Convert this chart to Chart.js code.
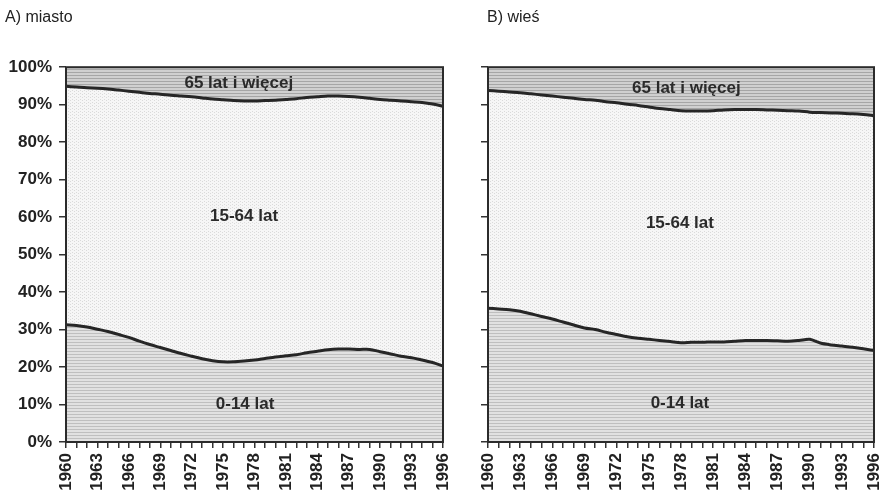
<!DOCTYPE html>
<html>
<head>
<meta charset="utf-8">
<script src="https://cdn.jsdelivr.net/npm/chart.js@4.4.1/dist/chart.umd.min.js"></script>
<style>
  body { margin: 0; background: #fff; }
  #wrap { position: relative; width: 880px; height: 498px; }
  canvas { position: absolute; top: 0; }
</style>
</head>
<body>
<div id="wrap">
  <canvas id="miasto" width="460" height="498" style="left:0"></canvas>
  <canvas id="wies" width="420" height="498" style="left:460px"></canvas>
</div>
<script>
var lata = ['1960','1961','1962','1963','1964','1965','1966','1967','1968','1969',
            '1970','1971','1972','1973','1974','1975','1976','1977','1978','1979',
            '1980','1981','1982','1983','1984','1985','1986','1987','1988','1989',
            '1990','1991','1992','1993','1994','1995','1996'];

// udział grupy 0-14 lat (%)
var miasto0_14 = [31.3, 31.1, 30.7, 30.1, 29.5, 28.7, 27.9, 26.9, 26.0, 25.2,
                  24.4, 23.6, 22.9, 22.2, 21.7, 21.4, 21.4, 21.6, 21.9, 22.3,
                  22.7, 23.0, 23.3, 23.8, 24.2, 24.6, 24.8, 24.8, 24.7, 24.7,
                  24.1, 23.5, 22.9, 22.5, 21.9, 21.2, 20.3];
// udział ludności poniżej 65 lat, narastająco (%)
var miasto0_64 = [94.9, 94.7, 94.5, 94.4, 94.2, 93.9, 93.6, 93.3, 93.0, 92.8,
                  92.5, 92.3, 92.1, 91.8, 91.5, 91.3, 91.1, 91.0, 91.0, 91.1,
                  91.2, 91.4, 91.6, 91.9, 92.1, 92.3, 92.3, 92.2, 92.0, 91.7,
                  91.4, 91.2, 91.0, 90.8, 90.6, 90.2, 89.6];

var wies0_14 = [35.7, 35.5, 35.3, 34.9, 34.2, 33.5, 32.8, 32.0, 31.2, 30.4,
                30.0, 29.3, 28.7, 28.1, 27.7, 27.4, 27.1, 26.8, 26.5, 26.6,
                26.6, 26.7, 26.7, 26.9, 27.1, 27.1, 27.1, 27.0, 26.9, 27.1,
                27.4, 26.4, 25.9, 25.6, 25.3, 24.9, 24.4];
var wies0_64 = [93.8, 93.6, 93.4, 93.2, 92.9, 92.6, 92.3, 92.0, 91.7, 91.4,
                91.2, 90.8, 90.5, 90.1, 89.8, 89.4, 89.0, 88.7, 88.4, 88.3,
                88.3, 88.4, 88.6, 88.7, 88.7, 88.7, 88.6, 88.5, 88.4, 88.3,
                88.0, 87.9, 87.8, 87.7, 87.6, 87.4, 87.1];

var grupy = ['65 lat i więcej', '15-64 lat', '0-14 lat'];
// gdzie stoją napisy grup: [indeks roku, wartość %]
var napisyMiasto = [[16.5, 95.7], [17, 60.3], [17.1, 10.1]];
var napisyWies = [[18.5, 94.4], [17.9, 58.4], [17.9, 10.2]];

var FONT = "'Liberation Sans', Arial, sans-serif";

function wzor(base, line, kind) {
    var c = document.createElement('canvas');
    c.width = 4; c.height = 3;
    var g = c.getContext('2d');
    g.fillStyle = base;
    g.fillRect(0, 0, 4, 3);
    g.fillStyle = line;
    if (kind === 'h') g.fillRect(0, 0, 4, 1);
    else { g.fillRect(0, 0, 1, 1); g.fillRect(2, 1, 1, 1); }
    return g.createPattern(c, 'repeat');
}

var tloSrodek = wzor('#f6f6f6', '#dadada', 'd');
var tloDol = wzor('#e1e1e1', '#bfbfbf', 'h');
var tloGora = wzor('#d0d0d0', '#a6a6a6', 'h');

var ramka = {
    id: 'ramka',
    beforeDraw: function (chart) {
        var a = chart.chartArea, ctx = chart.ctx;
        ctx.save();
        ctx.fillStyle = tloSrodek;
        ctx.fillRect(a.left, a.top, a.right - a.left, a.bottom - a.top);
        ctx.restore();
    },
    afterDatasetsDraw: function (chart, args, opts) {
        var a = chart.chartArea, ctx = chart.ctx;
        var x = chart.scales.x, y = chart.scales.y;
        ctx.save();
        ctx.strokeStyle = '#2b2b2b';
        ctx.lineWidth = 2;
        ctx.strokeRect(a.left, a.top, a.right - a.left, a.bottom - a.top);
        ctx.fillStyle = '#2a2a2a';
        ctx.font = 'bold 17px ' + FONT;
        ctx.textAlign = 'center';
        ctx.textBaseline = 'middle';
        opts.napisy.forEach(function (n, i) {
            ctx.fillText(grupy[i], x.getPixelForValue(n[0]), y.getPixelForValue(n[1]));
        });
        ctx.restore();
    }
};

function wykres(id, tytul, do14, do64, napisy, etykietyY, padLeft, padRight, szerY) {
    return new Chart(document.getElementById(id), {
        type: 'line',
        data: {
            labels: lata,
            datasets: [{
                data: do14,
                borderColor: '#262626',
                borderWidth: 3,
                backgroundColor: tloDol,
                fill: 'origin',
                pointRadius: 0,
                tension: 0.3
            }, {
                data: do64,
                borderColor: '#262626',
                borderWidth: 3,
                backgroundColor: tloGora,
                fill: 'end',
                pointRadius: 0,
                tension: 0.3
            }]
        },
        plugins: [ramka],
        options: {
            responsive: false,
            animation: false,
            devicePixelRatio: 1,
            layout: { padding: { left: padLeft, right: padRight, top: 0, bottom: 0 } },
            plugins: {
                legend: { display: false },
                tooltip: { enabled: false },
                title: {
                    display: true,
                    text: tytul,
                    align: 'start',
                    color: '#222',
                    font: { family: FONT, size: 16, weight: 'normal' },
                    padding: { top: 8, bottom: 40 }
                },
                ramka: { napisy: napisy }
            },
            scales: {
                x: {
                    offset: false,
                    grid: { drawOnChartArea: false, color: '#333', tickLength: 6, lineWidth: 1.5 },
                    border: { display: false },
                    afterFit: function (s) { s.height = 56; s.paddingLeft = 0; s.paddingRight = 0; },
                    ticks: {
                        autoSkip: false,
                        maxRotation: 90,
                        minRotation: 90,
                        padding: 5,
                        color: '#222',
                        font: { family: FONT, size: 17, weight: 'bold' },
                        callback: function (v, i) { return i % 3 === 0 ? this.getLabelForValue(v) : ''; }
                    }
                },
                y: {
                    min: 0,
                    max: 100,
                    grid: { drawOnChartArea: false, color: '#333', tickLength: 7, lineWidth: 1.5 },
                    border: { display: false },
                    afterFit: function (s) { s.width = szerY; },
                    ticks: {
                        stepSize: 10,
                        padding: 7,
                        color: '#222',
                        font: { family: FONT, size: 17, weight: 'bold' },
                        callback: function (v) { return etykietyY ? v + '%' : ''; }
                    }
                }
            }
        }
    });
}

wykres('miasto', 'A) miasto', miasto0_14, miasto0_64, napisyMiasto, true, 5, 17, 61);
wykres('wies', 'B) wieś', wies0_14, wies0_64, napisyWies, false, 27, 6, 1);
</script>
</body>
</html>
